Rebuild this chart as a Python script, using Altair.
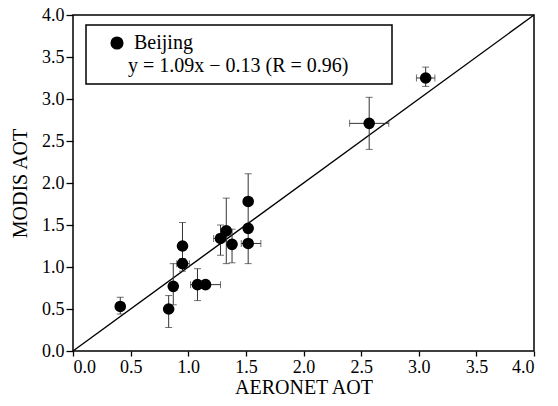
import altair as alt
import pandas as pd

# AERONET (x) vs MODIS (y) AOT, Beijing
aeronet = [0.41, 0.83, 0.87, 0.95, 0.95, 1.08, 1.15, 1.28, 1.33, 1.38, 1.52, 1.52, 1.52, 2.57, 3.06]
modis   = [0.53, 0.50, 0.77, 1.04, 1.25, 0.79, 0.79, 1.34, 1.43, 1.27, 1.78, 1.46, 1.28, 2.71, 3.25]
x_lo    = [0.38, 0.81, 0.84, 0.90, 0.93, 1.02, 1.13, 1.22, 1.31, 1.36, 1.50, 1.50, 1.46, 2.40, 2.98]
x_hi    = [0.44, 0.85, 0.90, 1.01, 0.97, 1.13, 1.28, 1.33, 1.35, 1.40, 1.54, 1.54, 1.63, 2.74, 3.14]
y_lo    = [0.44, 0.28, 0.55, 0.95, 1.00, 0.60, 0.77, 1.14, 1.04, 1.05, 1.46, 1.44, 1.04, 2.40, 3.15]
y_hi    = [0.64, 0.66, 1.04, 1.10, 1.53, 0.98, 0.81, 1.50, 1.82, 1.45, 2.11, 1.48, 1.50, 3.02, 3.38]
site = ["Beijing"] * len(aeronet)

line_x = [0.0, 4.0]
line_y = [0.0, 4.0]
ticks = [0.0, 0.5, 1.0, 1.5, 2.0, 2.5, 3.0, 3.5, 4.0]
equation = "y = 1.09x \u2212 0.13 (R = 0.96)"

FONT = "Liberation Serif"

df = pd.DataFrame({"x": aeronet, "y": modis, "xlo": x_lo, "xhi": x_hi,
                   "ylo": y_lo, "yhi": y_hi, "site": site})
dl = pd.DataFrame({"x": line_x, "y": line_y})

xs = alt.Scale(domain=[0, 4], nice=False)
ys = alt.Scale(domain=[0, 4], nice=False)
common = dict(labelFont=FONT, labelFontSize=18, labelColor="black",
              titleFont=FONT, titleFontSize=20, titleFontWeight="normal", titleColor="black",
              grid=False, domain=False, tickColor="black", tickWidth=1.3,
              values=ticks, format=".1f")
xax = alt.Axis(title="AERONET AOT", tickSize=5, labelPadding=2, titlePadding=1, **common)
yax = alt.Axis(title="MODIS AOT", tickSize=7, labelPadding=2, titlePadding=11, **common)

base = alt.Chart(df)

ident = alt.Chart(dl).mark_line(color="black", strokeWidth=1.4).encode(
    x=alt.X("x:Q", scale=xs, axis=xax), y=alt.Y("y:Q", scale=ys, axis=yax))

ERR = "#333"
vbar = base.mark_rule(color=ERR, strokeWidth=1).encode(x="x:Q", y="ylo:Q", y2="yhi:Q")
hbar = base.mark_rule(color=ERR, strokeWidth=1).encode(y="y:Q", x="xlo:Q", x2="xhi:Q")
cap_lo = base.mark_tick(color=ERR, thickness=1, size=7, orient="horizontal").encode(x="x:Q", y="ylo:Q")
cap_hi = base.mark_tick(color=ERR, thickness=1, size=7, orient="horizontal").encode(x="x:Q", y="yhi:Q")
cap_l = base.mark_tick(color=ERR, thickness=1, size=7, orient="vertical").encode(x="xlo:Q", y="y:Q")
cap_r = base.mark_tick(color=ERR, thickness=1, size=7, orient="vertical").encode(x="xhi:Q", y="y:Q")

pts = base.mark_point(filled=True, shape="circle", size=135, color="black", opacity=1).encode(
    x="x:Q", y="y:Q",
    color=alt.Color("site:N", scale=alt.Scale(range=["black"]),
                    legend=alt.Legend(title=None, orient="none", legendX=34, legendY=18,
                                      symbolSize=135, symbolType="circle",
                                      symbolFillColor="black", symbolStrokeColor="black",
                                      labelFont=FONT, labelFontSize=20, labelColor="black",
                                      labelOffset=7, padding=0)))

box = alt.Chart(pd.DataFrame({"k": [0]})).mark_rect(
    fill=None, stroke="black", strokeWidth=1.5).encode(
    x=alt.value(13), x2=alt.value(319), y=alt.value(10), y2=alt.value(69))
eq = alt.Chart(pd.DataFrame({"t": [equation]})).mark_text(
    font=FONT, fontSize=20, align="left", baseline="alphabetic", color="black").encode(
    x=alt.value(55), y=alt.value(57), text="t:N")

chart = alt.layer(ident, vbar, hbar, cap_lo, cap_hi, cap_l, cap_r, pts, box, eq).properties(
    width=461, height=336,
    background="white",
    autosize=alt.AutoSizeParams(type="none"),
    padding={"left": 65, "top": 7, "right": 16, "bottom": 47},
).configure_view(stroke="black", strokeWidth=1.5)

chart.save("out.html", embed_options={"renderer": "svg", "actions": False})
